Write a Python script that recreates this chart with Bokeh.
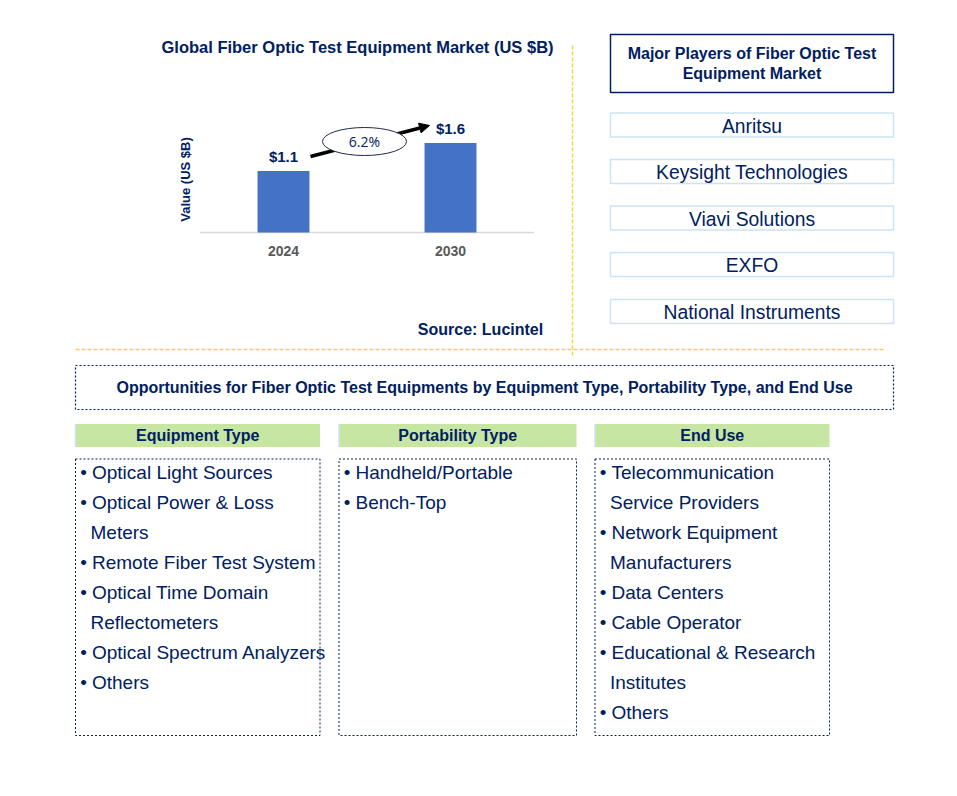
from bokeh.plotting import figure
from bokeh.models import Range1d, Arrow, NormalHead
from bokeh.core.properties import value
from bokeh.embed import file_html
from bokeh.resources import INLINE
import math

# ---------------- data ----------------
years = ["2024", "2030"]
market_values = [1.1, 1.6]
value_labels = ["$1.1", "$1.6"]
cagr_label = "6.2%"
chart_title = "Global Fiber Optic Test Equipment Market (US $B)"
y_axis_label = "Value (US $B)"
source_label = "Source: Lucintel"

players_title = ["Major Players of Fiber Optic Test", "Equipment Market"]
players = ["Anritsu", "Keysight Technologies", "Viavi Solutions", "EXFO", "National Instruments"]

opportunities_title = "Opportunities for Fiber Optic Test Equipments by Equipment Type, Portability Type, and End Use"
segment_titles = ["Equipment Type", "Portability Type", "End Use"]
equipment_type = [["Optical Light Sources"], ["Optical Power & Loss", "Meters"],
                  ["Remote Fiber Test System"], ["Optical Time Domain", "Reflectometers"],
                  ["Optical Spectrum Analyzers"], ["Others"]]
portability_type = [["Handheld/Portable"], ["Bench-Top"]]
end_use = [["Telecommunication", "Service Providers"], ["Network Equipment", "Manufacturers"],
           ["Data Centers"], ["Cable Operator"], ["Educational & Research", "Institutes"], ["Others"]]

# ---------------- style ----------------
NAVY = "#002060"
BAR = "#4472c4"
GREEN = "#c6e6a2"
LBLUE = "#c9e4f6"
ORANGE = "#ffc000"
FONT = value("Liberation Sans")

W, H = 941, 780
p = figure(width=W, height=H, x_range=Range1d(0, W), y_range=Range1d(H, 0),
           output_backend="svg", toolbar_location=None, min_border=0,
           x_axis_location=None, y_axis_location=None, outline_line_color=None,
           background_fill_color="white", border_fill_color="white")
p.grid.visible = False

# bar-chart scales: category index -> x, value -> y
PX_X = 167.0
X0 = 283.0
PX_Y = 56.0
Y0 = 232.0
p.extra_x_ranges = {"bx": Range1d((0 - X0) / PX_X, (W - X0) / PX_X)}
p.extra_y_ranges = {"by": Range1d((Y0 - H) / PX_Y, (Y0 - 0) / PX_Y)}


def txt(x, y, s, size, bold=False, color=NAVY, align="center", font=FONT, angle=0, **kw):
    p.text(x=[x], y=[y], text=[s], text_font=font, text_font_size=f"{size}px",
           text_font_style="bold" if bold else "normal", text_color=color,
           text_align=align, text_baseline="middle", angle=angle, **kw)


# ---------------- separators ----------------
p.segment(x0=[572], y0=[45], x1=[572], y1=[355], line_color=ORANGE, line_alpha=0.75,
          line_width=1.5, line_dash="4 2")
p.segment(x0=[75], y0=[349], x1=[883], y1=[349], line_color=ORANGE, line_alpha=0.75,
          line_width=1.5, line_dash="4 2")

# ---------------- bar chart ----------------
idx = list(range(len(years)))
txt(357, 46, chart_title, 16.5, bold=True)
p.segment(x0=[-0.5], y0=[0], x1=[len(years) - 0.5], y1=[0], line_color="#d9d9d9",
          line_width=1.5, x_range_name="bx", y_range_name="by")
p.vbar(x=idx, top=market_values, bottom=0, width=0.311, fill_color=BAR, line_color=None,
       x_range_name="bx", y_range_name="by")
p.text(x=idx, y=market_values, text=value_labels, text_font=FONT, text_font_size="15px",
       text_font_style="bold", text_color=NAVY, text_align="center", text_baseline="middle",
       y_offset=-14, x_range_name="bx", y_range_name="by")
p.text(x=idx, y=[0] * len(years), text=years, text_font=FONT, text_font_size="14px",
       text_font_style="bold", text_color="#595959", text_align="center", text_baseline="middle",
       y_offset=18, x_range_name="bx", y_range_name="by")
txt(185, 179, y_axis_label, 13, bold=True, angle=math.pi / 2)

arrow = Arrow(end=NormalHead(size=10, fill_color="black", line_color="black"),
              x_start=310, y_start=156, x_end=429, y_end=125, line_width=3.5,
              line_color="black", level="underlay")
p.add_layout(arrow)
p.ellipse(x=[364], y=[141], width=[84], height=[28], width_units="screen",
          height_units="screen", fill_color="white", line_color="#1f2a44", line_width=1)
txt(364, 141, cagr_label, 14, font=value("Open Sans"))

txt(480, 329, source_label, 16, bold=True)

# ---------------- major players ----------------
p.quad(left=[610], right=[893], top=[34], bottom=[92], fill_color="white",
       line_color=NAVY, line_width=1.5)
txt(751.5, 53, players_title[0], 16, bold=True)
txt(751.5, 73, players_title[1], 16, bold=True)
pc = [124.5, 171, 217.5, 264, 311]
for name, cy in zip(players, pc):
    p.quad(left=[610], right=[893], top=[cy - 12], bottom=[cy + 12], fill_color="white",
           line_color=LBLUE, line_width=1.5)
    txt(751.5, cy + 1, name, 19.3)

# ---------------- opportunities ----------------
p.quad(left=[75], right=[893], top=[365], bottom=[409], fill_color=None,
       line_color=NAVY, line_width=1.2, line_dash="2 2")
txt(484, 387, opportunities_title, 16, bold=True)

cols = [(75, 319.5), (338.5, 576), (594.5, 829)]
lists = [equipment_type, portability_type, end_use]
for (l, r), title, items in zip(cols, segment_titles, lists):
    p.quad(left=[l], right=[r], top=[423.5], bottom=[446.5], fill_color=GREEN,
           line_color=None)
    p.segment(x0=[l], y0=[423.5], x1=[l], y1=[446.5], line_color=LBLUE, line_width=1.5)
    txt((l + r) / 2, 435, title, 16, bold=True)
    p.quad(left=[l], right=[r], top=[458.5], bottom=[735], fill_color=None,
           line_color=NAVY, line_width=1, line_dash="2 2")
    line = 0
    for item in items:
        for k, s in enumerate(item):
            y = 471.5 + 30 * line
            if k == 0:
                txt(l + 8, y, "\u2022", 19)
                txt(l + 16.5, y, s, 19, align="left")
            else:
                txt(l + 15, y, s, 19, align="left")
            line += 1

open("out.html", "w").write(file_html(p, INLINE))
